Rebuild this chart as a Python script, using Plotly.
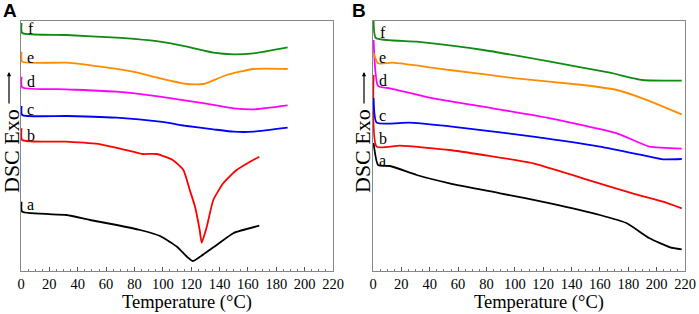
import plotly.graph_objects as go

# ---------------- data (Temperature °C, relative DSC signal, arbitrary units) ----------------
A_f_T = [0.4, 0.8, 32, 67.5, 98, 117, 135.6, 150, 164, 188]
A_f_y = [248, 238, 236, 233.3, 229.3, 224.3, 218.3, 216.7, 217.7, 223.7]
A_e_T = [0.4, 0.8, 32, 56, 79, 98, 117, 128.6, 145, 164, 188]
A_e_y = [219.3, 209.3, 208.3, 204.3, 199.3, 192.7, 187, 187, 196, 202, 202]
A_d_T = [0.4, 0.8, 32, 67.5, 98, 126, 150, 164, 188]
A_d_y = [194.3, 183.7, 181.7, 179.3, 174.3, 168.3, 162.7, 161.7, 165.7]
A_c_T = [0.4, 0.8, 32, 67.5, 98, 117, 135.6, 150, 164, 188]
A_c_y = [165, 156, 155, 153.3, 149.3, 145, 141.7, 139.3, 139.3, 143.3]
A_b_T = [0.4, 0.8, 32, 56, 79, 86, 95.6, 107, 114.5, 119, 122.7, 126, 127.4, 131, 135.6, 142.6, 152, 161.5, 168]
A_b_y = [142.7, 131, 129.3, 126.7, 119.3, 117, 117, 111, 101, 81, 64.3, 41, 28.3, 44.3, 71, 87.7, 101, 109.3, 114.3]
A_a_T = [0.4, 0.8, 32, 48.6, 67.5, 84, 98, 110, 117, 121, 126, 138, 150, 168]
A_a_y = [69.3, 59.3, 56, 51, 46, 41, 35, 24.3, 14.3, 10, 14, 26, 38, 45.3]

B_f_T = [0.4, 2, 30.8, 77.8, 125, 167, 190, 217.7]
B_f_y = [250, 233, 229.3, 221, 209.3, 198.3, 191, 190.3]
B_e_T = [0.4, 3.6, 14, 54, 101, 148, 172, 190, 217.7]
B_e_y = [218, 207.7, 208.3, 201, 192.7, 186, 181, 172.7, 156.7]
B_d_T = [0.4, 3.6, 12, 42.5, 77.8, 125, 172, 195, 217.7]
B_d_y = [231, 185, 182.7, 172.7, 164.3, 152.7, 137.7, 124.3, 122.3]
B_c_T = [0.4, 2.6, 26, 66, 113, 160, 195, 204.5, 217.7]
B_c_y = [173, 148.3, 148.3, 142.7, 134.3, 124.3, 114.3, 111.7, 112]
B_b_T = [0.4, 2.6, 19, 54, 77.8, 113, 148, 183, 204.5, 217.7]
B_b_y = [196, 124.3, 125.3, 121, 116, 107.7, 92.7, 77.7, 69.3, 62.7]
B_a_T = [0.4, 3.6, 12, 30.8, 54, 89.6, 125, 160, 179, 195, 209.5, 217.7]
B_a_y = [128, 106, 105, 96, 87.7, 77.7, 67.7, 56, 47.7, 32.7, 23.7, 21.7]

curve_names = ["a", "b", "c", "d", "e", "f"]
curve_colors = ["#000000", "#ff0000", "#0000ff", "#ff00ff", "#ff8c00", "#108a10"]
A_label_y = [67, 136, 162, 190, 214, 243]
B_label_y = [111, 133, 156, 191, 214, 239]
label_T = 7

x_ticks = list(range(0, 221, 20))

A_series = [(A_a_T, A_a_y), (A_b_T, A_b_y), (A_c_T, A_c_y), (A_d_T, A_d_y), (A_e_T, A_e_y), (A_f_T, A_f_y)]
B_series = [(B_a_T, B_a_y), (B_b_T, B_b_y), (B_c_T, B_c_y), (B_d_T, B_d_y), (B_e_T, B_e_y), (B_f_T, B_f_y)]

fig = go.Figure()
SERIF = "Liberation Serif, Times New Roman, serif"

for (T, y), c in zip(A_series, curve_colors):
    fig.add_trace(go.Scatter(x=T, y=y, mode="lines", line=dict(color=c, width=1.8, shape="spline", smoothing=0.5),
                             xaxis="x", yaxis="y", showlegend=False, hoverinfo="skip"))
for (T, y), c in zip(B_series, curve_colors):
    fig.add_trace(go.Scatter(x=T, y=y, mode="lines", line=dict(color=c, width=1.8, shape="spline", smoothing=0.5),
                             xaxis="x2", yaxis="y2", showlegend=False, hoverinfo="skip"))

ann = []
for n, ly in zip(curve_names, A_label_y):
    ann.append(dict(x=label_T, y=ly, xref="x", yref="y", text=n, showarrow=False,
                    xanchor="center", yanchor="middle",
                    font=dict(family=SERIF, size=16, color="black")))
for n, ly in zip(curve_names, B_label_y):
    ann.append(dict(x=label_T, y=ly, xref="x2", yref="y2", text=n, showarrow=False,
                    xanchor="center", yanchor="middle",
                    font=dict(family=SERIF, size=16, color="black")))

W, H = 699, 314
def py(p):
    return (271 - p) / 250.0

for lab, lx, tx, ax_x, tcx in [("A", 10, 11, 9, 187), ("B", 359, 362, 364, 539)]:
    ann.append(dict(x=lx / W, y=py(11), xref="paper", yref="paper", text="<b>%s</b>" % lab,
                    xanchor="center", yanchor="middle",
                    showarrow=False, font=dict(family="Liberation Sans, Arial", size=19, color="black")))
    ann.append(dict(x=tx / W, y=py(151), xref="paper", yref="paper", text="DSC Exo", textangle=-90,
                    xanchor="center", yanchor="middle",
                    showarrow=False, font=dict(family=SERIF, size=22, color="black")))
    ann.append(dict(x=ax_x / W, y=py(72), xref="paper", yref="paper", ax=0, ay=33, text="",
                    showarrow=True, arrowhead=2, arrowsize=0.7, arrowwidth=1.2, arrowcolor="black"))
    ann.append(dict(x=tcx / W, y=py(302), xref="paper", yref="paper", text="Temperature (°C)",
                    xanchor="center", yanchor="middle",
                    showarrow=False, font=dict(family=SERIF, size=18.5, color="black")))

axis_common = dict(range=[0, 220], tickvals=x_ticks, ticks="inside", ticklen=4, tickcolor="#555",
                   showline=True, linecolor="#888", linewidth=1, mirror=True, showgrid=False,
                   zeroline=False, automargin=False, layer="below traces",
                   tickfont=dict(family=SERIF, size=14.5, color="black"),
                   minor=dict(ticks="inside", ticklen=2, dtick=5, tickcolor="#777"))
yaxis_common = dict(range=[0, 250], showticklabels=False, ticks="", showline=True, linecolor="#888",
                    linewidth=1, mirror=True, showgrid=False, zeroline=False, automargin=False,
                    layer="below traces")

fig.update_layout(
    width=W, height=H,
    margin=dict(l=0, r=0, t=21, b=43),
    paper_bgcolor="white", plot_bgcolor="white",
    xaxis=dict(domain=[21 / W, 333 / W], anchor="y", **axis_common),
    yaxis=dict(domain=[0, 1], anchor="x", **yaxis_common),
    xaxis2=dict(domain=[373 / W, 685 / W], anchor="y2", **axis_common),
    yaxis2=dict(domain=[0, 1], anchor="x2", **yaxis_common),
    annotations=ann,
)

fig.write_html("out.html", config={"displayModeBar": False},
               post_script="document.body.style.margin='0';document.body.style.overflow='hidden';")
